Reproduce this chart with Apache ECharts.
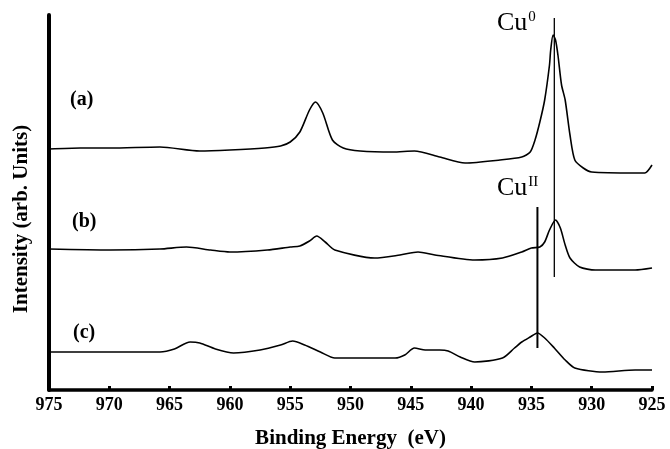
<!DOCTYPE html>
<html>
<head>
<meta charset="utf-8">
<script src="https://cdn.jsdelivr.net/npm/echarts@6/dist/echarts.min.js"></script>
<style>
html, body { margin: 0; padding: 0; background: #fff; }
#chart { width: 670px; height: 449px; }
</style>
</head>
<body>
<div id="chart"></div>
<script>
// XPS Cu 2p spectra, intensities in arbitrary units (offset per trace)
var energyA = [975.0, 972.4, 969.9, 965.8, 962.5, 960.0, 957.1, 955.8, 955.0, 954.2, 953.4, 952.9, 952.3, 951.5, 950.6, 949.2, 946.5, 944.7, 942.6, 940.5, 937.6, 935.8, 935.1, 934.7, 934.3, 933.9, 933.5, 933.4, 933.2, 933.0, 932.8, 932.5, 932.2, 931.8, 931.4, 930.7, 930.0, 926.4, 925.6, 925.0];
var intensA = [241, 242, 242, 243, 239, 240, 242, 244, 248, 258, 280, 288, 277, 250, 242, 239, 238, 239, 233, 227, 230, 233, 238, 250, 268, 290, 325, 340, 355, 350, 335, 305, 290, 255, 230, 222, 218, 217, 217, 225];

var energyB = [975.0, 969.9, 965.8, 963.6, 961.6, 960.0, 956.9, 955.0, 954.2, 953.4, 952.8, 952.1, 951.3, 948.0, 945.9, 944.4, 943.0, 939.7, 937.4, 935.8, 935.0, 934.3, 933.9, 933.5, 933.0, 932.6, 932.2, 931.8, 931.0, 929.7, 926.4, 925.0];
var intensB = [141, 140, 141, 143, 140, 138, 140, 143, 144, 149, 154, 148, 140, 132, 135, 138, 135, 130, 132, 138, 142, 143, 148, 160, 170, 162, 145, 132, 123, 120, 120, 122];

var energyC = [975.0, 970.8, 965.8, 964.6, 963.3, 962.5, 961.2, 959.7, 957.5, 955.8, 954.8, 953.8, 952.5, 951.3, 946.3, 945.5, 944.7, 943.8, 942.6, 941.9, 940.9, 939.7, 937.4, 936.4, 935.8, 935.1, 934.5, 933.9, 933.1, 932.2, 931.4, 929.1, 926.4, 925.0];
var intensC = [38, 38, 38, 41, 48, 47, 41, 37, 40, 45, 49, 45, 38, 32, 32, 35, 42, 40, 40, 39, 33, 28, 32, 42, 48, 53, 57, 52, 42, 30, 22, 18, 20, 20];

// marker lines: [energy, top, bottom]
var cu0Line = [933.1, 372, 113];
var cu2Line = [934.5, 183, 42];

var xTicks = [975, 970, 965, 960, 955, 950, 945, 940, 935, 930, 925];

function pairs(xs, ys) {
    return xs.map(function (x, i) { return [x, ys[i]]; });
}

var myChart = echarts.init(document.getElementById('chart'));

var serif = 'Liberation Serif';
var lineStyle = { color: '#000', width: 1.6 };
var supRich = {
    m: { fontFamily: serif, fontSize: 26, fill: '#000' },
    s: { fontFamily: serif, fontSize: 15, fill: '#000', verticalAlign: 'top', padding: [0, 0, 12, 1] }
};

var option = {
    backgroundColor: '#fff',
    animation: false,
    grid: { left: 49, right: 18, top: 15, bottom: 59, outerBoundsMode: 'none', containLabel: false },
    xAxis: {
        type: 'value',
        min: 925,
        max: 975,
        interval: 5,
        inverse: true,
        name: 'Binding Energy  (eV)',
        nameLocation: 'middle',
        nameGap: 38,
        nameTextStyle: { fontFamily: serif, fontWeight: 'bold', fontSize: 21, color: '#000' },
        axisLine: { show: true, lineStyle: { color: '#000', width: 3.5 } },
        axisTick: { show: true, inside: true, length: 4, lineStyle: { color: '#000', width: 3 } },
        axisLabel: {
            margin: 6, fontFamily: serif, fontWeight: 'bold', fontSize: 18, color: '#000',
            formatter: function (v) { return xTicks.indexOf(v) >= 0 ? String(v) : ''; }
        },
        splitLine: { show: false }
    },
    yAxis: {
        type: 'value',
        min: 0,
        max: 375,
        axisLine: { show: true, lineStyle: { color: '#000', width: 4 } },
        axisTick: { show: false },
        axisLabel: { show: false },
        splitLine: { show: false }
    },
    graphic: [
        {
            type: 'text', x: 22, y: 219, rotation: Math.PI / 2,
            style: { text: 'Intensity (arb. Units)', font: 'bold 21px "Liberation Serif"', fill: '#000', align: 'center', verticalAlign: 'middle' }
        },
        { type: 'text', x: 70, y: 100, style: { text: '(a)', font: 'bold 20px "Liberation Serif"', fill: '#000', verticalAlign: 'middle' } },
        { type: 'text', x: 72, y: 222, style: { text: '(b)', font: 'bold 20px "Liberation Serif"', fill: '#000', verticalAlign: 'middle' } },
        { type: 'text', x: 73, y: 333, style: { text: '(c)', font: 'bold 20px "Liberation Serif"', fill: '#000', verticalAlign: 'middle' } },
        { type: 'text', x: 497, y: 23, style: { text: '{m|Cu}{s|0}', verticalAlign: 'middle', fill: '#000', rich: supRich } },
        { type: 'text', x: 497, y: 188, style: { text: '{m|Cu}{s|II}', verticalAlign: 'middle', fill: '#000', rich: supRich } }
    ],
    series: [
        { name: 'a', type: 'line', data: pairs(energyA, intensA), showSymbol: false, smooth: 0.25, lineStyle: lineStyle },
        { name: 'b', type: 'line', data: pairs(energyB, intensB), showSymbol: false, smooth: 0.25, lineStyle: lineStyle },
        { name: 'c', type: 'line', data: pairs(energyC, intensC), showSymbol: false, smooth: 0.25, lineStyle: lineStyle },
        { name: 'Cu0', type: 'line', data: [[cu0Line[0], cu0Line[1]], [cu0Line[0], cu0Line[2]]], showSymbol: false, lineStyle: { color: '#000', width: 1.3 } },
        { name: 'CuII', type: 'line', data: [[cu2Line[0], cu2Line[1]], [cu2Line[0], cu2Line[2]]], showSymbol: false, lineStyle: { color: '#000', width: 2 } }
    ]
};
myChart.setOption(option);
</script>
</body>
</html>
